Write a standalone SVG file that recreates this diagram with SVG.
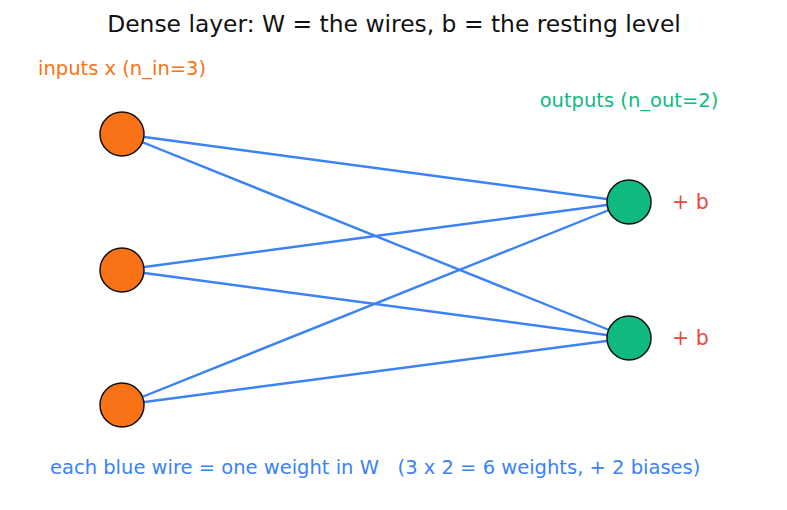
<svg xmlns="http://www.w3.org/2000/svg" width="787" height="510" viewBox="0 0 787 510">
<style>
text{font-family:"DejaVu Sans","Liberation Sans",sans-serif}
.in{fill:#f97316;stroke:#111;stroke-width:1.5}
.out{fill:#10b981;stroke:#111;stroke-width:1.5}
.w{stroke:#3b82f6;stroke-width:2.4;fill:none}
.b{fill:#ef4444;font-size:20.5px}
</style>
<rect width="787" height="510" fill="#fff"/>
<text x="394" y="32" font-size="23.4" text-anchor="middle" fill="#111">Dense layer: W = the wires, b = the resting level</text>
<text x="38" y="75" font-size="19.5" fill="#f97316">inputs x (n_in=3)</text>
<text x="629" y="107" font-size="19.5" text-anchor="middle" fill="#10b981">outputs (n_out=2)</text>
<g id="connectors">
<line class="w" x1="122" y1="134" x2="629" y2="202"/>
<line class="w" x1="122" y1="134" x2="629" y2="338"/>
<line class="w" x1="122" y1="270" x2="629" y2="202"/>
<line class="w" x1="122" y1="270" x2="629" y2="338"/>
<line class="w" x1="122" y1="405" x2="629" y2="202"/>
<line class="w" x1="122" y1="405" x2="629" y2="338"/>
</g>
<g id="x1"><circle class="in" cx="122" cy="134" r="22"/></g>
<g id="x2"><circle class="in" cx="122" cy="270" r="22"/></g>
<g id="x3"><circle class="in" cx="122" cy="405" r="22"/></g>
<g id="y1"><circle class="out" cx="629" cy="202" r="22"/><text class="b" x="672" y="209">+ b</text></g>
<g id="y2"><circle class="out" cx="629" cy="338" r="22"/><text class="b" x="672" y="345">+ b</text></g>
<text x="50" y="474" font-size="19.5" fill="#3b82f6" xml:space="preserve">each blue wire = one weight in W   (3 x 2 = 6 weights, + 2 biases)</text>
</svg>
